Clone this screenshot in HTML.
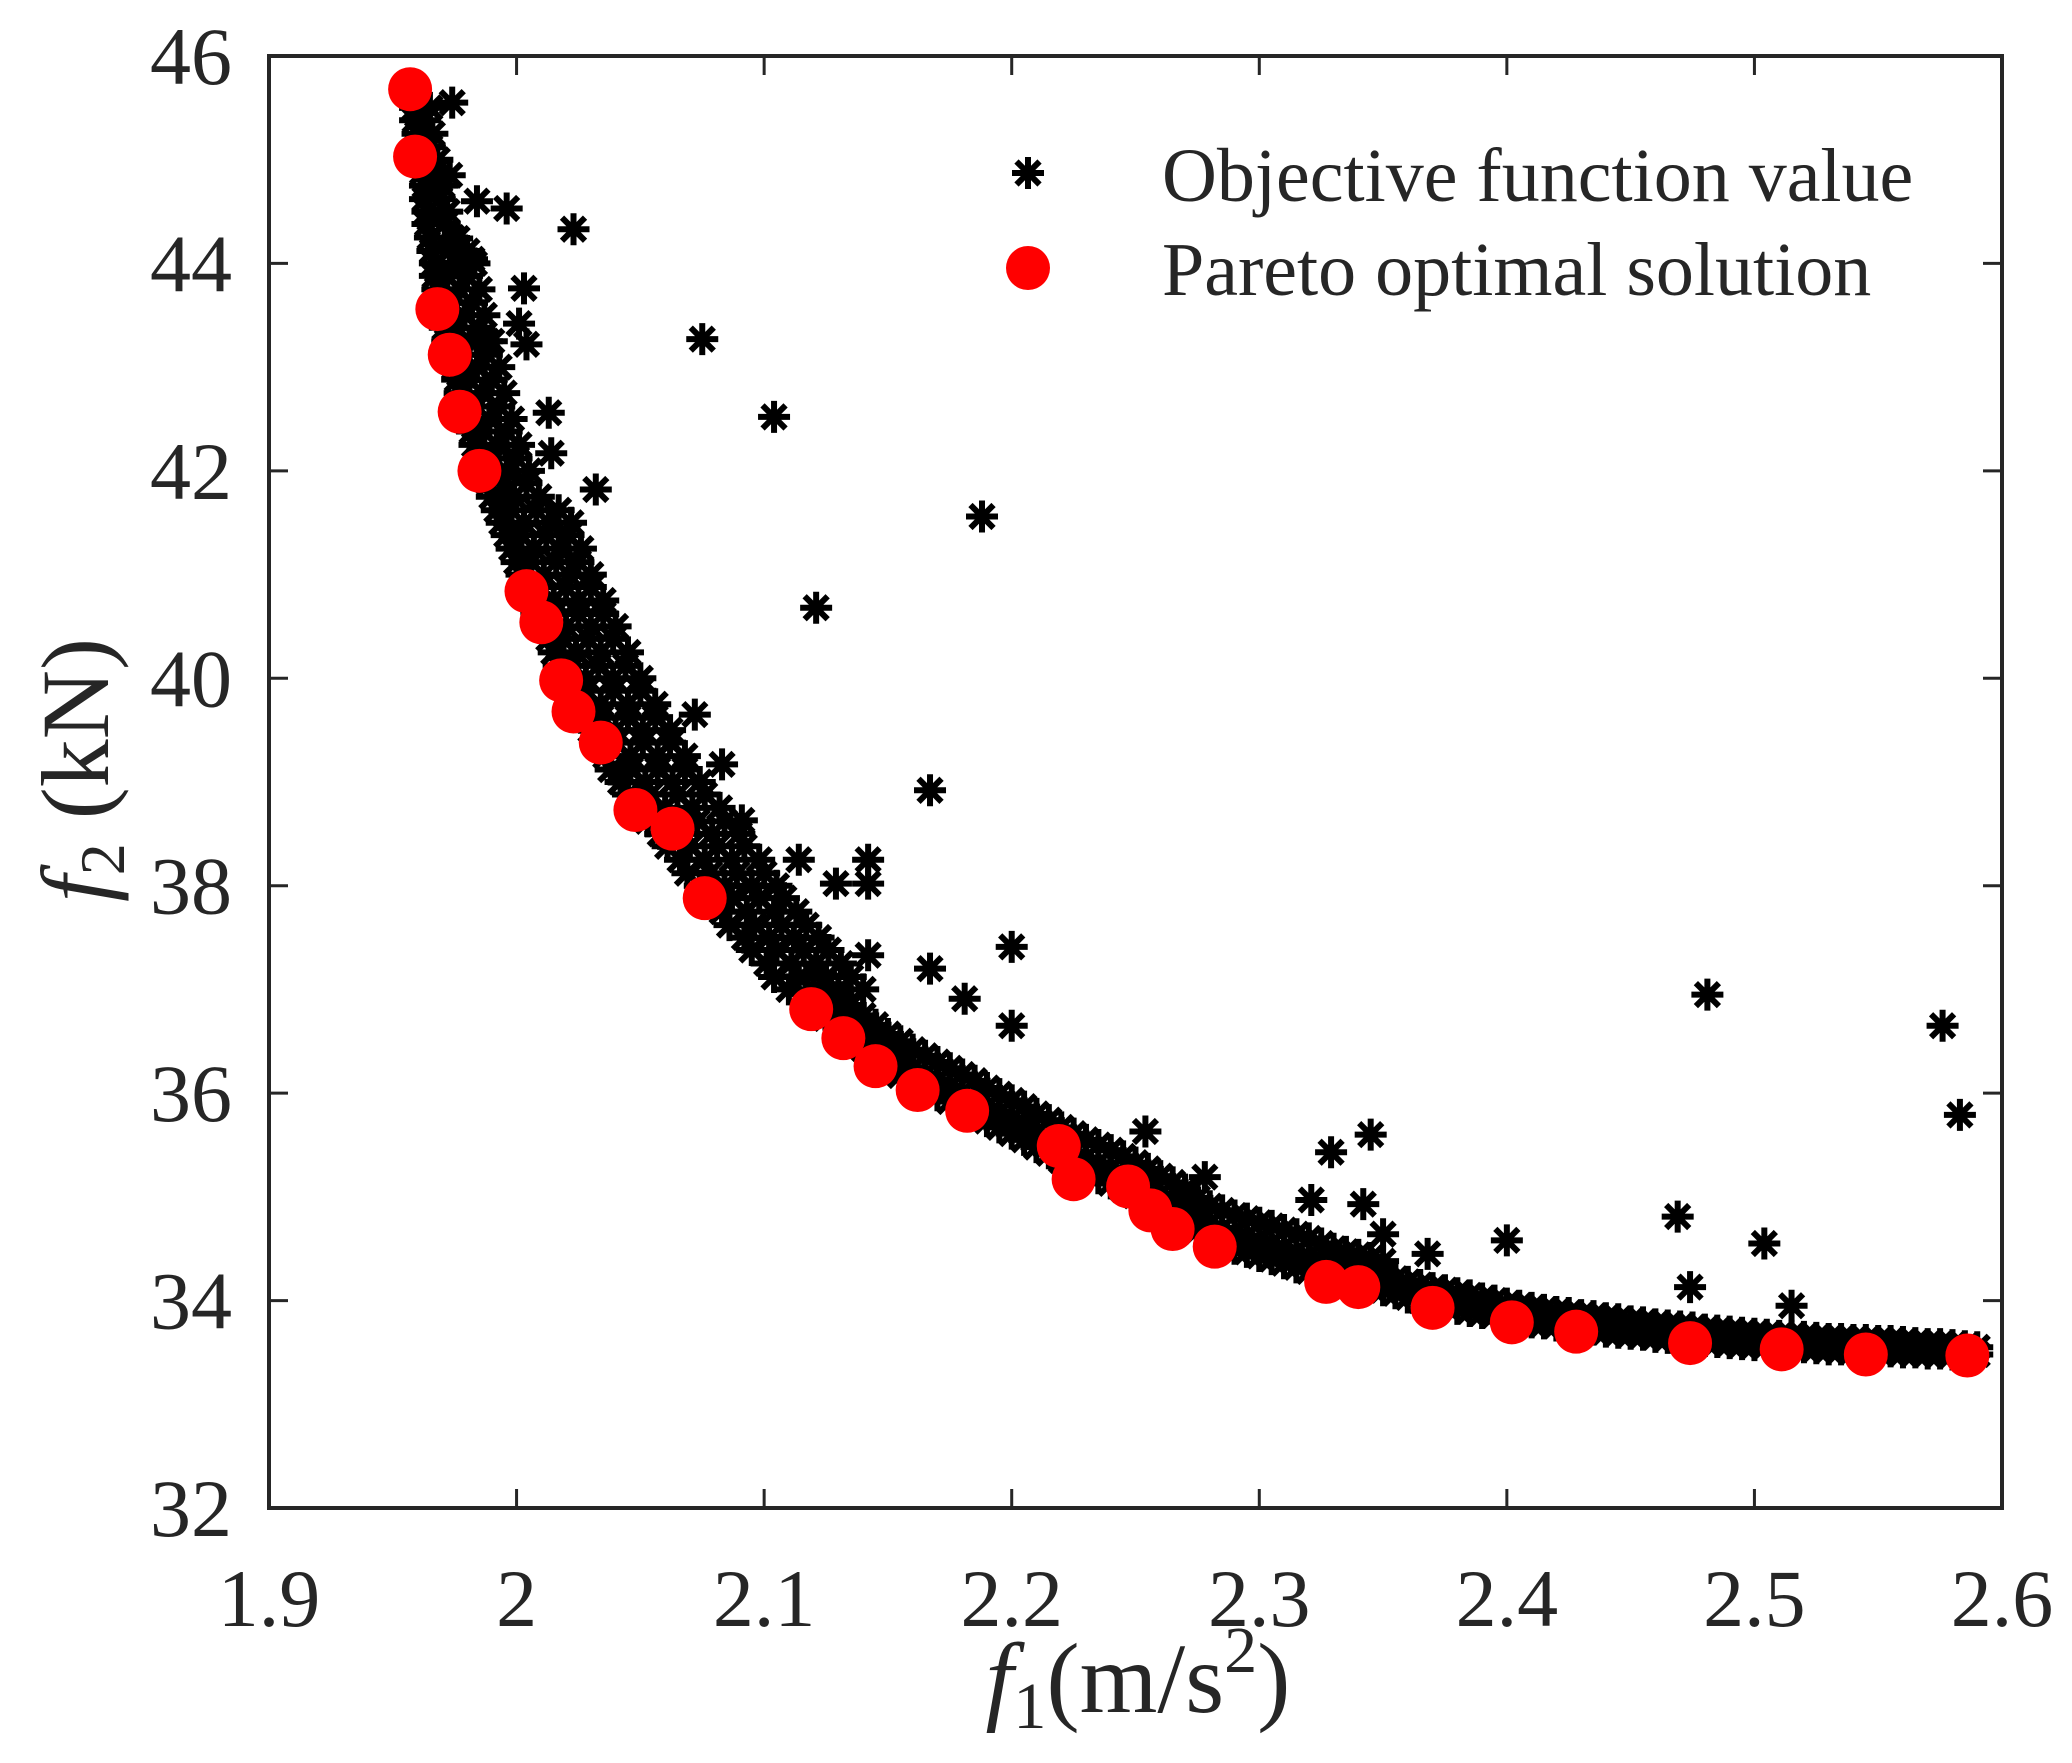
<!DOCTYPE html>
<html><head><meta charset="utf-8"><style>
html,body{margin:0;padding:0;background:#fff;}
svg{display:block;}
text{font-family:"Liberation Serif",serif;fill:#262626;}
</style></head><body>
<svg id="chart" width="2072" height="1763" viewBox="0 0 2072 1763" xmlns="http://www.w3.org/2000/svg">
<g id="marks"></g>
<g id="axes"></g>
<text x="1138" y="1712" text-anchor="middle" font-size="100"><tspan font-style="italic">f</tspan><tspan font-size="66" dy="16">1</tspan><tspan dy="-16">(m/s</tspan><tspan font-size="66" dy="-40">2</tspan><tspan dy="40">)</tspan></text>
<text transform="translate(108,770) rotate(-90)" text-anchor="middle" font-size="96"><tspan font-style="italic">f</tspan><tspan font-size="64" dy="16">2</tspan><tspan dy="-16"> (kN)</tspan></text>
<g>
<g id="legStar"></g>
<text x="1162" y="201" font-size="76">Objective function value</text>
<circle cx="1028" cy="268" r="22" fill="#ff0000"/>
<text x="1162" y="295" font-size="76">Pareto optimal solution</text>
</g>
</svg>
<script>
const xTicks=[1.9,2,2.1,2.2,2.3,2.4,2.5,2.6];
const xTickLabels=["1.9","2","2.1","2.2","2.3","2.4","2.5","2.6"];
const yTicks=[32,34,36,38,40,42,44,46];
const yTickLabels=["32","34","36","38","40","42","44","46"];
const paretoX=[1.957,1.959,1.968,1.973,1.977,1.985,2.004,2.010,2.018,2.023,2.034,2.048,2.063,2.076,2.119,2.132,2.145,2.162,2.182,2.219,2.225,2.247,2.256,2.265,2.282,2.327,2.340,2.370,2.402,2.428,2.474,2.511,2.545,2.586];
const paretoY=[45.68,45.03,43.56,43.12,42.57,42.0,40.84,40.54,39.98,39.68,39.38,38.73,38.55,37.88,36.81,36.53,36.26,36.03,35.83,35.49,35.17,35.10,34.87,34.69,34.52,34.18,34.13,33.93,33.79,33.70,33.59,33.53,33.48,33.47];
// steep band rows: [y, x values...]
const bandRowsY=[
[45.5,1.959,1.965],[45.25,1.960,1.966],[45.0,1.961,1.968],[44.75,1.963,1.970],[44.5,1.964,1.972],[44.25,1.965,1.974],
[44.0,1.967,1.976,1.983],[43.75,1.968,1.977,1.985],[43.5,1.970,1.979,1.987],[43.25,1.972,1.981,1.990],[43.0,1.975,1.984,1.993],
[42.75,1.977,1.986,1.995],[42.5,1.980,1.989,1.998],[42.25,1.983,1.992,2.001],[42.0,1.987,1.996,2.005],[41.75,1.990,1.999,2.009],
[41.5,1.994,2.003,2.013,2.022],[41.25,1.998,2.007,2.017,2.026],[41.0,2.002,2.011,2.021,2.030],[40.75,2.006,2.015,2.025,2.035],
[40.5,2.011,2.020,2.030,2.040],[40.25,2.015,2.024,2.034,2.045],[40.0,2.019,2.028,2.039,2.050],[39.75,2.024,2.034,2.045,2.056],
[39.5,2.030,2.040,2.051,2.062],[39.25,2.036,2.046,2.057,2.068],[39.0,2.042,2.052,2.063,2.074],[38.75,2.050,2.060,2.071,2.082],
[38.5,2.058,2.068,2.079,2.090],[38.25,2.066,2.076,2.087,2.098],[38.0,2.074,2.084,2.095,2.105],[37.75,2.083,2.093,2.104,2.113],
[37.5,2.092,2.102,2.112,2.122],[37.25,2.101,2.111,2.121,2.131],[37.0,2.110,2.120,2.130,2.140],
[45.38,1.959,1.963],[45.12,1.960,1.965],[44.88,1.962,1.967],[44.62,1.963,1.969],[44.38,1.964,1.971],[44.12,1.966,1.973,1.980],
[43.88,1.967,1.972,1.980],[43.62,1.969,1.974,1.982],[43.38,1.971,1.976,1.985],[43.12,1.974,1.979,1.988],[42.88,1.976,1.981,1.990],
[42.62,1.979,1.984,1.993],[42.38,1.982,1.987,1.996],[42.12,1.985,1.991,2.000],[41.88,1.989,1.995,2.004],[41.62,1.992,1.998,2.008,2.017],
[41.38,1.996,2.002,2.012,2.021],[41.12,2.000,2.006,2.016,2.025],[40.88,2.004,2.010,2.020,2.030],[40.62,2.008,2.015,2.025,2.035],
[40.38,2.013,2.019,2.029,2.039],[40.12,2.017,2.023,2.033,2.044],[39.88,2.021,2.028,2.039,2.050],[39.62,2.026,2.034,2.045,2.056],
[39.38,2.032,2.040,2.051,2.062],[39.12,2.038,2.046,2.057,2.068],[38.88,2.045,2.054,2.065,2.076],[38.62,2.053,2.062,2.073,2.084],
[38.38,2.061,2.070,2.081,2.092],[38.12,2.069,2.078,2.089,2.100],[37.88,2.077,2.087,2.098,2.108],[37.62,2.086,2.096,2.107,2.117],
[37.38,2.095,2.105,2.116,2.126],[37.12,2.104,2.114,2.125,2.135]];
// flatter band columns: [x, y values...]
const bandColsX=[
[2.12,36.83,36.98,37.15],[2.13,36.63,36.78,36.95],[2.14,36.43,36.58,36.75],[2.15,36.25,36.40,36.57],[2.16,36.10,36.25,36.42],
[2.17,35.98,36.13,36.30],[2.18,35.86,36.01,36.18],[2.19,35.73,35.88,36.05],[2.20,35.61,35.76,35.93],[2.21,35.48,35.63,35.80],
[2.22,35.35,35.50,35.67],[2.23,35.23,35.38,35.55],[2.24,35.13,35.28,35.45],[2.25,35.01,35.16,35.33],[2.26,34.88,35.03,35.20],
[2.27,34.75,34.90,35.07],[2.28,34.59,34.74,34.91],[2.29,34.50,34.65,34.82],[2.30,34.43,34.58,34.75],[2.31,34.36,34.51,34.68],
[2.32,34.28,34.43,34.60],[2.33,34.21,34.36,34.50],[2.34,34.15,34.30,34.44],[2.35,34.10,34.25,34.38],[2.36,34.03,34.18],
[2.37,33.97,34.12],[2.38,33.92,34.07],[2.39,33.88,34.02],[2.40,33.83,33.97],[2.41,33.79,33.93],[2.42,33.76,33.89],
[2.43,33.73,33.86],[2.44,33.70,33.83],[2.45,33.68,33.80],[2.46,33.65,33.77],[2.47,33.63,33.75],[2.48,33.61,33.72],
[2.49,33.59,33.70],[2.50,33.57,33.68],[2.51,33.56,33.66],[2.52,33.55,33.65],[2.53,33.53,33.63],[2.54,33.52,33.62],
[2.55,33.51,33.61],[2.56,33.50,33.60],[2.57,33.49,33.58],[2.58,33.48,33.57],[2.59,33.48,33.55],
[2.125,36.72,36.88,37.05],[2.135,36.52,36.68,36.85],[2.145,36.33,36.49,36.66],[2.155,36.17,36.33,36.50],[2.165,36.04,36.19,36.36],
[2.175,35.92,36.07,36.24],[2.185,35.80,35.95,36.12],[2.195,35.67,35.82,35.99],[2.205,35.55,35.70,35.87],[2.215,35.42,35.57,35.74],
[2.225,35.29,35.44,35.61],[2.235,35.18,35.33,35.50],[2.245,35.07,35.22,35.39],[2.255,34.95,35.10,35.27],[2.265,34.82,34.97,35.14],
[2.275,34.67,34.82,34.99],[2.285,34.55,34.70,34.87],[2.295,34.47,34.62,34.79],[2.305,34.40,34.55,34.72],[2.315,34.32,34.47,34.64],
[2.325,34.25,34.40,34.55],[2.335,34.18,34.33,34.47],[2.345,34.13,34.28,34.41],[2.355,34.07,34.21],[2.365,34.00,34.15],
[2.375,33.95,34.10],[2.385,33.90,34.05],[2.395,33.86,34.00],[2.405,33.81,33.95],[2.415,33.78,33.91],[2.425,33.75,33.88],
[2.435,33.72,33.85],[2.445,33.69,33.82],[2.455,33.67,33.79],[2.465,33.64,33.76],[2.475,33.62,33.74],[2.485,33.60,33.71],
[2.495,33.58,33.69],[2.505,33.57,33.67],[2.515,33.56,33.66],[2.525,33.54,33.64],[2.535,33.53,33.63],[2.545,33.52,33.62],
[2.555,33.51,33.61],[2.565,33.50,33.59],[2.575,33.49,33.58],[2.585,33.48,33.56]];
const outlierX=[1.974,1.973,1.976,1.982,1.984,1.996,2.023,2.003,2.001,2.004,1.988,2.013,2.014,2.032,2.075,2.104,2.188,2.121,2.072,2.083,2.091,2.114,2.129,2.142,2.142,2.142,2.167,2.167,2.181,2.200,2.200,2.254,2.278,2.321,2.329,2.345,2.342,2.350,2.368,2.400,2.469,2.474,2.481,2.504,2.515,2.576,2.583];
const outlierY=[45.55,44.85,44.24,44.04,44.60,44.53,44.33,43.76,43.42,43.22,43.25,42.56,42.17,41.82,43.27,42.52,41.56,40.68,39.65,39.17,38.63,38.25,38.02,38.25,38.02,37.33,38.92,37.20,36.91,37.41,36.65,35.63,35.19,34.97,35.43,35.60,34.93,34.64,34.45,34.58,34.81,34.13,36.95,34.55,33.95,36.65,35.79];

const X0=269,X1=2002,Y0=1508,Y1=56;
const sx=v=>X0+(v-1.9)/(0.7)*(X1-X0);
const sy=v=>Y0-(v-32)/14*(Y0-Y1);
const NS="http://www.w3.org/2000/svg";
const marks=document.getElementById('marks');
const axes=document.getElementById('axes');
function star(g,cx,cy){
  const r=16,d=r*0.72;
  const p=document.createElementNS(NS,'path');
  p.setAttribute('d',`M${cx-r},${cy}H${cx+r}M${cx},${cy-r}V${cy+r}M${cx-d},${cy-d}L${cx+d},${cy+d}M${cx-d},${cy+d}L${cx+d},${cy-d}`);
  p.setAttribute('stroke','#000');p.setAttribute('stroke-width','6');p.setAttribute('fill','none');
  
  
  g.appendChild(p);
}
bandRowsY.forEach(r=>{for(let i=1;i<r.length;i++)star(marks,sx(r[i]),sy(r[0]));});
bandColsX.forEach(c=>{for(let i=1;i<c.length;i++)star(marks,sx(c[0]),sy(c[i]));});
outlierX.forEach((x,i)=>star(marks,sx(x),sy(outlierY[i])));
paretoX.forEach((x,i)=>{
  const c=document.createElementNS(NS,'circle');
  c.setAttribute('cx',sx(x));c.setAttribute('cy',sy(paretoY[i]));c.setAttribute('r',22);c.setAttribute('fill','#ff0000');
  
  
  marks.appendChild(c);
});
star(document.getElementById('legStar'),1028,173);
const box=document.createElementNS(NS,'rect');
box.setAttribute('x',X0);box.setAttribute('y',Y1);box.setAttribute('width',X1-X0);box.setAttribute('height',Y0-Y1);
box.setAttribute('fill','none');box.setAttribute('stroke','#262626');box.setAttribute('stroke-width','4');


axes.appendChild(box);
const TL=19;
xTicks.forEach((v,i)=>{
  const x=sx(v);
  const t=document.createElementNS(NS,'path');
  t.setAttribute('d',`M${x},${Y0}V${Y0-TL}M${x},${Y1}V${Y1+TL}`);
  t.setAttribute('stroke','#262626');t.setAttribute('stroke-width','3');
  
  
  axes.appendChild(t);
  const l=document.createElementNS(NS,'text');
  l.setAttribute('x',x);l.setAttribute('y',1626);l.setAttribute('text-anchor','middle');l.setAttribute('font-size','82');
  l.textContent=xTickLabels[i];
  
  
  axes.appendChild(l);
});
yTicks.forEach((v,i)=>{
  const y=sy(v);
  const t=document.createElementNS(NS,'path');
  t.setAttribute('d',`M${X0},${y}H${X0+TL}M${X1},${y}H${X1-TL}`);
  t.setAttribute('stroke','#262626');t.setAttribute('stroke-width','3');
  
  
  axes.appendChild(t);
  const l=document.createElementNS(NS,'text');
  l.setAttribute('x',232);l.setAttribute('y',y+28);l.setAttribute('text-anchor','end');l.setAttribute('font-size','82');
  l.textContent=yTickLabels[i];
  
  
  axes.appendChild(l);
});
</script>
</body></html>
